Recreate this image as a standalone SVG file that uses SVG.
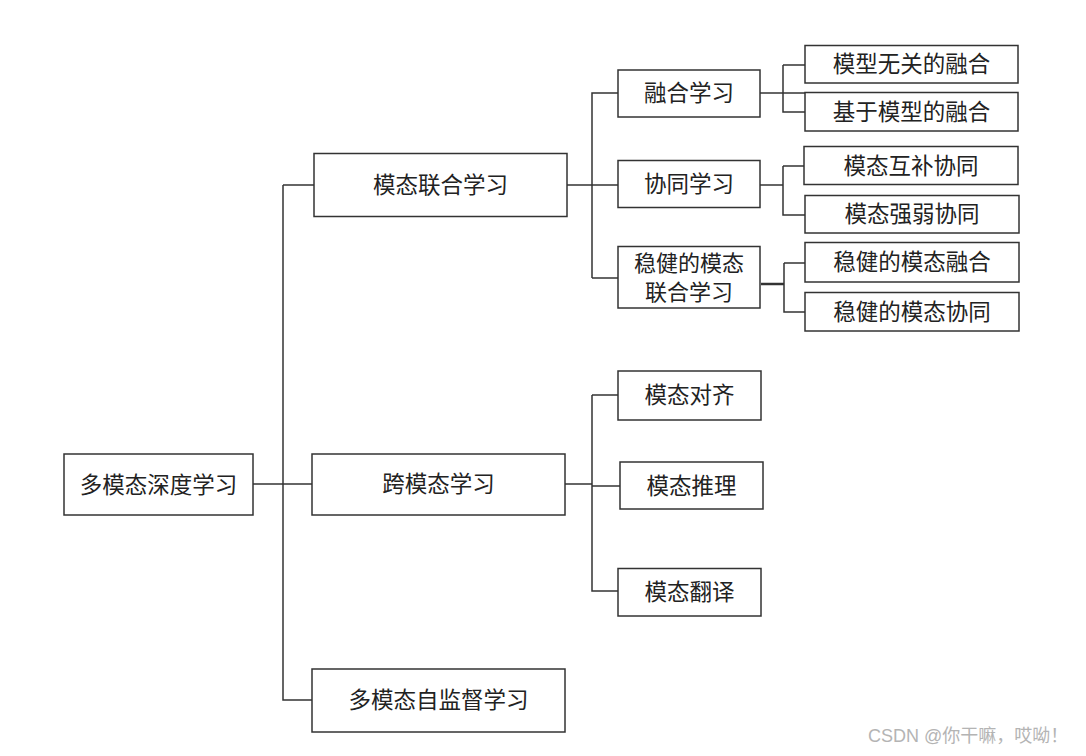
<svg xmlns="http://www.w3.org/2000/svg" width="1086" height="756" viewBox="0 0 1086 756">
<style>
rect.n{fill:#fff;stroke:#333;stroke-width:1.5}
text{font-family:"Noto Sans CJK SC","Microsoft YaHei",sans-serif;font-size:22.5px;fill:#222;text-anchor:middle;dominant-baseline:central}
text.two{font-size:22px}
.c path{fill:none;stroke:#333;stroke-width:1.5}
text.wm{font-family:"Liberation Sans","Noto Sans CJK SC",sans-serif;font-size:18px;fill:#b4b4b4;text-anchor:start;dominant-baseline:alphabetic}
</style>
<rect width="1086" height="756" fill="#fff"/>
<g class="c" id="connectors">
<path d="M253 484H312"/>
<path d="M283 185V700H312"/>
<path d="M283 185H314"/>
<path d="M567 185H618"/>
<path d="M592 278V93H618"/>
<path d="M592 278H618"/>
<path d="M760 93H805"/>
<path d="M783 65V112H805"/>
<path d="M783 65H805"/>
<path d="M760 185H783"/>
<path d="M783 166V215H805"/>
<path d="M783 166H804"/>
<path d="M761 284H784" style="stroke-width:2.5"/>
<path d="M784 263V312H805"/>
<path d="M784 263H805"/>
<path d="M565 484H592"/>
<path d="M592 395V591H618"/>
<path d="M592 395H618"/>
<path d="M592 486H620"/>
</g>
<g id="n0"><rect class="n" x="64" y="454" width="189" height="61"/><text x="158.5" y="482.5">多模态深度学习</text></g>
<g id="n1"><rect class="n" x="314" y="153.5" width="253" height="63"/><text x="440.5" y="183">模态联合学习</text></g>
<g id="n2"><rect class="n" x="312" y="454" width="253" height="61"/><text x="438.5" y="482">跨模态学习</text></g>
<g id="n3"><rect class="n" x="312" y="669" width="253" height="63"/><text x="438.5" y="698">多模态自监督学习</text></g>
<g id="n4"><rect class="n" x="618" y="70" width="142" height="47"/><text x="689" y="91">融合学习</text></g>
<g id="n5"><rect class="n" x="618" y="160.5" width="142" height="47"/><text x="689" y="182">协同学习</text></g>
<g id="n6"><rect class="n" x="618" y="246.5" width="142" height="61.5"/><text class="two" x="689" y="261">稳健的模态</text><text class="two" x="689" y="290">联合学习</text></g>
<g id="n7"><rect class="n" x="805" y="45.5" width="213" height="37.5"/><text x="911.5" y="62">模型无关的融合</text></g>
<g id="n8"><rect class="n" x="805" y="92.5" width="213" height="38.5"/><text x="911.5" y="109.5">基于模型的融合</text></g>
<g id="n9"><rect class="n" x="804" y="146.5" width="214" height="38"/><text x="911" y="163.5">模态互补协同</text></g>
<g id="n10"><rect class="n" x="805" y="195.5" width="214" height="37.5"/><text x="912" y="212">模态强弱协同</text></g>
<g id="n11"><rect class="n" x="805" y="242.5" width="214" height="39.5"/><text x="912" y="260">稳健的模态融合</text></g>
<g id="n12"><rect class="n" x="805" y="292.5" width="214" height="38.5"/><text x="912" y="309.5">稳健的模态协同</text></g>
<g id="n13"><rect class="n" x="618" y="371" width="143" height="49"/><text x="689.5" y="393">模态对齐</text></g>
<g id="n14"><rect class="n" x="620" y="462" width="143" height="47"/><text x="691.5" y="483.5">模态推理</text></g>
<g id="n15"><rect class="n" x="618" y="568.5" width="143" height="47.5"/><text x="689.5" y="590">模态翻译</text></g>
<text class="wm" x="868" y="742">CSDN @你干嘛，哎呦！</text>
</svg>
